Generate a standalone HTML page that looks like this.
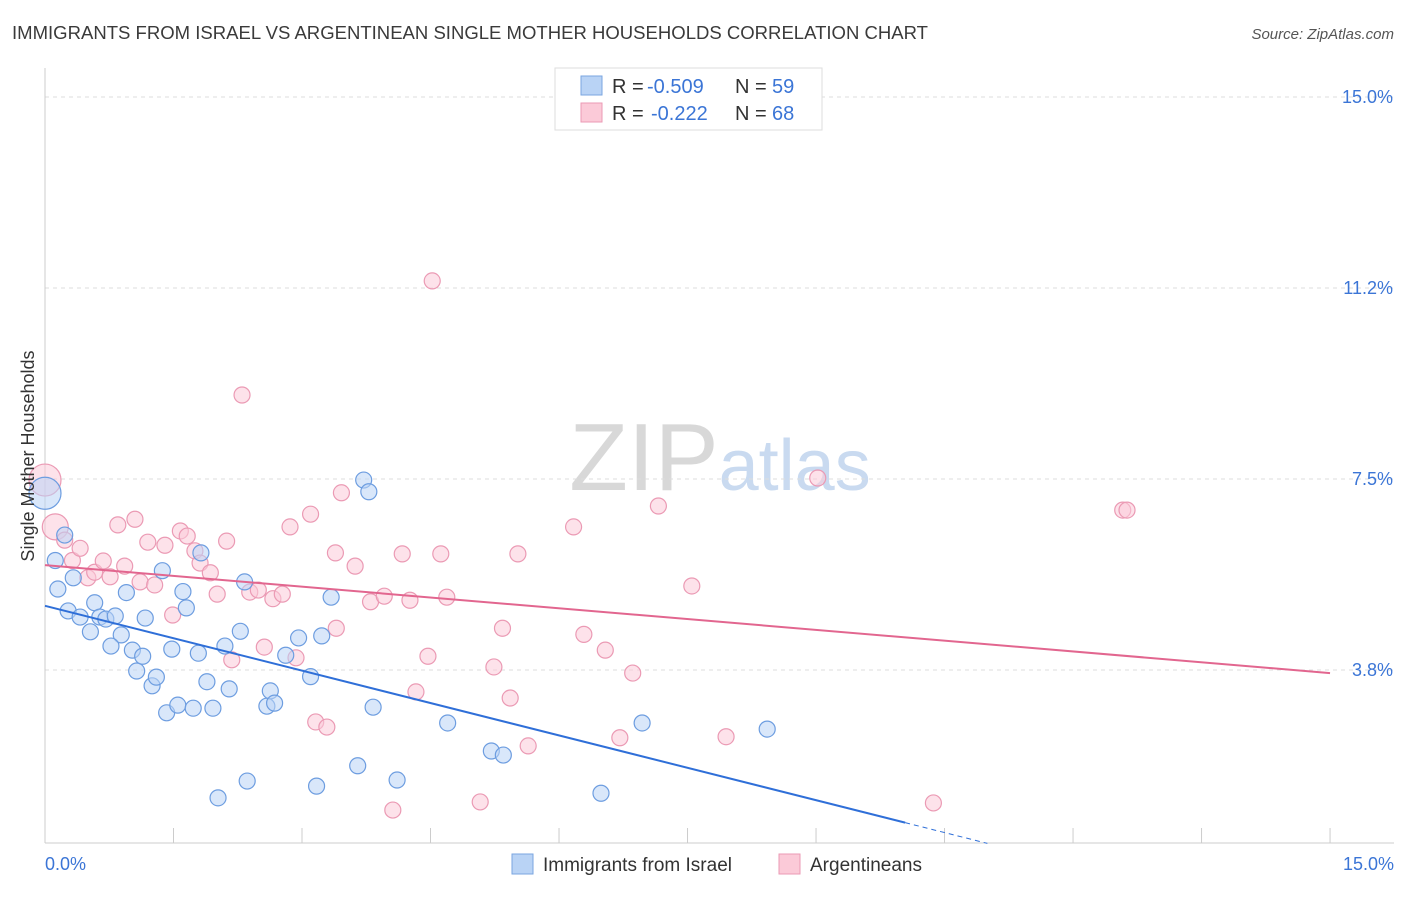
<!DOCTYPE html>
<html><head><meta charset="utf-8"><style>
body{margin:0;background:#fff;font-family:"Liberation Sans",sans-serif;}
svg text{font-family:"Liberation Sans",sans-serif;}
</style></head><body>
<svg id="chart" width="1406" height="892" xmlns="http://www.w3.org/2000/svg">
<text x="12" y="39" font-size="18" fill="#3a3a3a" textLength="916" lengthAdjust="spacingAndGlyphs">IMMIGRANTS FROM ISRAEL VS ARGENTINEAN SINGLE MOTHER HOUSEHOLDS CORRELATION CHART</text>
<text x="1394" y="39" font-size="15" fill="#555" text-anchor="end" font-style="italic">Source: ZipAtlas.com</text>
<text x="720" y="490" font-size="96" fill="#ddd" text-anchor="middle" font-family="Liberation Serif"><tspan fill="#d8d8d8">ZIP</tspan><tspan fill="#c9daf0" font-family="Liberation Sans" font-size="72">atlas</tspan></text>
<g id="grid"></g>
<g id="axes"></g>
<g id="pts"></g>
<g id="lines"></g>
<text transform="translate(34,456) rotate(-90)" font-size="18" fill="#333" text-anchor="middle">Single Mother Households</text>
<g>
<rect x="555" y="68" width="267" height="62" fill="#fff" stroke="#ddd"/>
<rect x="581" y="76" width="21" height="19" fill="#b9d3f5" stroke="#7aa6e0"/>
<rect x="581" y="103" width="21" height="19" fill="#fbcad8" stroke="#eb9ab4"/>
<text x="612" y="93" font-size="20" fill="#333">R =</text>
<text x="647" y="93" font-size="20" fill="#3b75d6">-0.509</text>
<text x="735" y="93" font-size="20" fill="#333">N =</text>
<text x="772" y="93" font-size="20" fill="#3b75d6">59</text>
<text x="612" y="120" font-size="20" fill="#333">R =</text>
<text x="651" y="120" font-size="20" fill="#3b75d6">-0.222</text>
<text x="735" y="120" font-size="20" fill="#333">N =</text>
<text x="772" y="120" font-size="20" fill="#3b75d6">68</text>
</g>
<g>
<rect x="512" y="854" width="21" height="20" fill="#b9d3f5" stroke="#7aa6e0"/>
<text x="543" y="871" font-size="19" fill="#333">Immigrants from Israel</text>
<rect x="779" y="854" width="21" height="20" fill="#fbcad8" stroke="#eb9ab4"/>
<text x="810" y="871" font-size="19" fill="#333">Argentineans</text>
</g>
</svg>
<script>
const yTicks=[3.75,7.5,11.25,15];
const yTickLabels=["3.8%","7.5%","11.2%","15.0%"];
const xTickLabels=["0.0%","15.0%"];
const blueX=[0,0.12,0.15,0.23,0.33,0.27,0.41,0.53,0.58,0.64,0.71,0.82,0.89,0.77,0.95,1.02,1.07,1.14,1.17,1.25,1.30,1.37,1.42,1.48,1.55,1.61,1.65,1.73,1.79,1.82,1.89,1.96,2.02,2.10,2.15,2.28,2.33,2.36,2.59,2.63,2.68,2.81,2.96,3.10,3.17,3.23,3.34,3.65,3.72,3.78,3.83,4.11,4.70,5.21,5.35,6.49,6.97,8.43];
const blueY=[7.22,5.90,5.34,6.40,5.56,4.91,4.79,4.50,5.07,4.79,4.75,4.81,4.44,4.22,5.27,4.14,3.73,4.02,4.77,3.44,3.61,5.70,2.91,4.16,3.06,5.29,4.97,3.00,4.08,6.05,3.52,3.00,1.24,4.22,3.38,4.51,5.48,1.57,3.04,3.34,3.10,4.04,4.38,3.62,1.47,4.42,5.18,1.87,7.48,7.25,3.02,1.59,2.71,2.16,2.08,1.33,2.71,2.59];
const pinkX=[0,0.12,0.23,0.32,0.41,0.50,0.58,0.68,0.76,0.85,0.93,1.05,1.11,1.20,1.28,1.40,1.49,1.58,1.66,1.75,1.81,1.93,2.01,2.12,2.18,2.30,2.39,2.49,2.56,2.66,2.77,2.86,2.93,3.10,3.16,3.29,3.39,3.46,3.40,3.62,3.80,3.96,4.06,4.17,4.26,4.33,4.47,4.52,4.62,4.69,5.08,5.24,5.34,5.43,5.52,5.64,6.17,6.29,6.54,6.71,6.86,7.16,7.55,7.95,9.02,10.37,12.58,12.63];
const pinkY=[7.48,6.56,6.30,5.90,6.14,5.56,5.67,5.89,5.58,6.60,5.79,6.71,5.48,6.26,5.42,6.20,4.83,6.48,6.38,6.09,5.85,5.66,5.24,6.28,3.95,9.15,5.28,5.32,4.20,5.15,5.24,6.56,3.99,6.81,2.73,2.63,6.05,7.23,4.57,5.79,5.09,5.20,1.00,6.03,5.12,3.32,4.02,11.39,6.03,5.18,1.16,3.81,4.57,3.20,6.03,2.26,6.56,4.45,4.14,2.42,3.69,6.97,5.40,2.44,7.52,1.14,6.89,6.89];
const blueTrend=[0,5.01,15,-1.35];
const pinkTrend=[0,5.81,15,3.69];
const NS="http://www.w3.org/2000/svg";
const X=v=>45+v*85.67, Y=v=>861-v*50.93;
function mk(tag,attrs,parent){const e=document.createElementNS(NS,tag);for(const k in attrs)e.setAttribute(k,attrs[k]);document.getElementById(parent).appendChild(e);return e;}
yTicks.forEach((t,i)=>{
 const l=mk('line',{x1:45,x2:1394,y1:Y(t),y2:Y(t),stroke:'#ddd','stroke-dasharray':'4,4'},'grid');
 
 
 const tx=mk('text',{x:1393,y:Y(t)+6,'font-size':18,fill:'#3b75d6','text-anchor':'end'},'axes');
 tx.textContent=yTickLabels[i];
 
 
});
const ax=mk('line',{x1:45,x2:45,y1:68,y2:843,stroke:'#ccc'},'axes');


const bx=mk('line',{x1:45,x2:1394,y1:843,y2:843,stroke:'#ccc'},'axes');


for(let i=1;i<=10;i++){const t=mk('line',{x1:X(i*1.5),x2:X(i*1.5),y1:828,y2:843,stroke:'#ccc'},'axes');
 
 }
[[0,'start',45],[15,'end',1394]].forEach((a,i)=>{const t=mk('text',{x:a[2],y:870,'font-size':18,fill:'#3b75d6','text-anchor':a[1]},'axes');t.textContent=xTickLabels[i];
 
 });
function pts(xs,ys,fill,stroke,name){xs.forEach((x,i)=>{const r=i<(name==='pink-point'?2:1)?(i===0?16:13):8;
 const c=mk('circle',{cx:X(x),cy:Y(ys[i]),r:r,fill:fill,'fill-opacity':0.55,stroke:stroke,'stroke-width':1.2},'pts');
 
 });}
pts(pinkX,pinkY,'#fbcad8','#eb9ab4','pink-point');
pts(blueX,blueY,'#b9d3f5','#6d9de0','blue-point');
const bxEnd=10.04;
const bs=(blueTrend[3]-blueTrend[1])/(blueTrend[2]-blueTrend[0]);
const bl=mk('line',{x1:X(blueTrend[0]),y1:Y(blueTrend[1]),x2:X(bxEnd),y2:Y(blueTrend[1]+bs*bxEnd),stroke:'#2f6fd8','stroke-width':2},'lines');


const bd=mk('line',{x1:X(bxEnd),y1:Y(blueTrend[1]+bs*bxEnd),x2:X(11),y2:Y(blueTrend[1]+bs*11),stroke:'#2f6fd8','stroke-width':1,'stroke-dasharray':'5,4'},'lines');


const pl=mk('line',{x1:X(pinkTrend[0]),y1:Y(pinkTrend[1]),x2:X(pinkTrend[2]),y2:Y(pinkTrend[3]),stroke:'#e2668f','stroke-width':2},'lines');


</script>
</body></html>
